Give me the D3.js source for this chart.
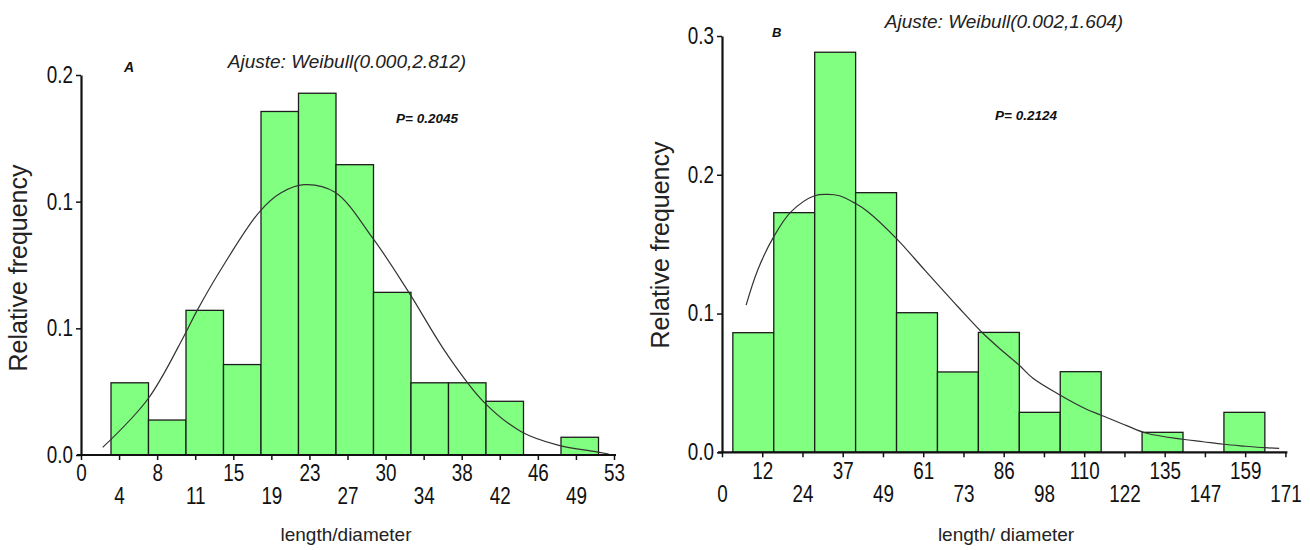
<!DOCTYPE html>
<html><head><meta charset="utf-8">
<script src="https://cdn.jsdelivr.net/npm/d3@7"></script>
<style>
html,body{margin:0;padding:0;background:#fff;}
svg{display:block;}
</style></head><body>
<svg id="chart" width="1310" height="550"></svg>
<script>
// ---------- Panel A data ----------
const binStartA = [3.0, 6.75, 10.5, 14.25, 18.0, 21.75, 25.5, 29.25, 33.0, 36.75, 40.5, 44.25, 48.0];
const binWidthA = 3.75;
const freqA = [0.0285, 0.0138, 0.0571, 0.0357, 0.1356, 0.1428, 0.1146, 0.0642, 0.0285, 0.0285, 0.0212, 0, 0.0070];
const curveXA = [2.17, 6.73, 10.33, 11.59, 14.19, 17.85, 19.97, 22.3, 25.4, 29.16, 32.8, 36.58, 40.29, 44.03, 47.7, 51.45, 52.77];
const curveYA = [0.0030, 0.0223, 0.0472, 0.0569, 0.0745, 0.0960, 0.1034, 0.1067, 0.1037, 0.0857, 0.0641, 0.0399, 0.0209, 0.0092, 0.0039, 0.0013, 0.0004];
const xTickLabelsA = ["0","4","8","11","15","19","23","27","30","34","38","42","46","49","53"];
const xMaxA = 53.3;
const yTickValuesA = [0, 0.05, 0.10, 0.15];
const yTickLabelsA = ["0.0","0.1","0.1","0.2"];
const titleA = "Ajuste: Weibull(0.000,2.812)";
const pValueA = "P= 0.2045";

// ---------- Panel B data ----------
const binStartB = [3.3, 15.75, 28.2, 40.65, 53.1, 65.55, 78.0, 90.45, 102.9, 115.35, 127.8, 140.25, 152.7];
const binWidthB = 12.45;
const freqB = [0.0862, 0.1727, 0.2883, 0.1871, 0.1006, 0.0579, 0.0864, 0.0288, 0.0581, 0, 0.0144, 0, 0.0288];
const curveXB = [7.34, 10.87, 15.75, 21.04, 28.14, 32.19, 35.75, 40.54, 44.37, 53.02, 61.64, 71.78, 78.9, 85.0, 90.36, 94.6, 102.8, 110.9, 115.2, 123.1, 129.2, 140.1, 146.4, 152.5, 158.6, 165.2, 169.5];
const curveYB = [0.1061, 0.1314, 0.1554, 0.1734, 0.1849, 0.1859, 0.1849, 0.1794, 0.1734, 0.1542, 0.1314, 0.1049, 0.0869, 0.0737, 0.0629, 0.0533, 0.0413, 0.0310, 0.0269, 0.0192, 0.0137, 0.0094, 0.0076, 0.0058, 0.0045, 0.0033, 0.0029];
const xTickLabelsB = ["0","12","24","37","49","61","73","86","98","110","122","135","147","159","171"];
const xMaxB = 171.4;
const yTickValuesB = [0, 0.1, 0.2, 0.3];
const yTickLabelsB = ["0.0","0.1","0.2","0.3"];
const titleB = "Ajuste: Weibull(0.002,1.604)";
const pValueB = "P= 0.2124";

const yLabel = "Relative frequency";
const xLabelA = "length/diameter";
const xLabelB = "length/ diameter";

const svg = d3.select("#chart");
const SANS = '"Liberation Sans", Arial, sans-serif';
const NARROW_SCALE = 0.82;

function drawPanel(p) {
  const g = svg.append("g");
  const x = d3.scaleLinear().domain([0, p.xMax]).range([p.x0, p.x1]);
  const y = d3.scaleLinear().domain([0, p.yMax]).range([p.yBottom, p.yTop]);

  // bars
  const bars = p.starts.map((s, i) => ({s, e: s + p.width, f: p.freq[i]})).filter(d => d.f > 0);
  g.append("g").selectAll("rect").data(bars).join("rect")
    .attr("x", d => x(d.s)).attr("width", d => x(d.e) - x(d.s))
    .attr("y", d => y(d.f)).attr("height", d => y(0) - y(d.f))
    .attr("fill", "#80ff80").attr("stroke", "#1c1c1c").attr("stroke-width", 1.3);

  // fitted curve
  const pts = p.cx.map((v, i) => [v, p.cy[i]]);
  g.append("path").datum(pts)
    .attr("d", d3.line().x(d => x(d[0])).y(d => y(d[1])).curve(d3.curveCatmullRom.alpha(0.5)))
    .attr("fill", "none").attr("stroke", "#333").attr("stroke-width", 1.2);

  // x axis
  const xTickVals = p.xLabels.map((l, i) => i * p.xMax / (p.xLabels.length - 1));
  const xa = g.append("g").attr("transform", `translate(0,${p.yBottom})`)
    .call(d3.axisBottom(x).tickValues(xTickVals).tickSize(5).tickSizeOuter(0)
      .tickFormat((d, i) => p.xLabels[i]));
  xa.select(".domain").remove();
  xa.selectAll(".tick line").attr("stroke", "#111").attr("stroke-width", 1.5);
  xa.selectAll(".tick text")
    .attr("dy", null)
    .attr("y", (d, i) => (i % 2 === p.upperParity) ? 26.5 : 49.5)
    .attr("transform", `scale(${NARROW_SCALE},1)`)
    .attr("font-family", SANS).attr("font-size", 23).attr("fill", "#111");
  g.append("line").attr("x1", x(0) - 4).attr("x2", x(p.xMax) + 2)
    .attr("y1", p.yBottom).attr("y2", p.yBottom).attr("stroke", "#111").attr("stroke-width", 2.2);

  // y axis
  const ya = g.append("g").attr("transform", `translate(${p.x0},0)`)
    .call(d3.axisLeft(y).tickValues(p.yTicks).tickSize(5).tickSizeOuter(0).tickPadding(3)
      .tickFormat((d, i) => p.yLabels[i]));
  ya.select(".domain").attr("stroke", "#111").attr("stroke-width", 2.2);
  ya.selectAll(".tick line").attr("stroke", "#111").attr("stroke-width", 1.5);
  ya.selectAll(".tick text")
    .attr("x", -8 / NARROW_SCALE)
    .attr("transform", `scale(${NARROW_SCALE},1)`)
    .attr("font-family", SANS).attr("font-size", 23).attr("fill", "#111");

  // texts
  g.append("text").attr("x", p.letterX).attr("y", p.letterY).text(p.letter)
    .attr("font-family", SANS).attr("font-weight", "bold").attr("font-style", "italic")
    .attr("font-size", p.letterSize).attr("fill", "#111");
  g.append("text").attr("x", p.titleX).attr("y", p.titleY).text(p.title)
    .attr("text-anchor", "middle").attr("font-family", SANS).attr("font-style", "italic")
    .attr("font-size", 19).attr("fill", "#222");
  g.append("text").attr("x", p.pX).attr("y", p.pY).text(p.pText)
    .attr("font-family", SANS).attr("font-weight", "bold").attr("font-style", "italic")
    .attr("font-size", 13.5).attr("fill", "#111");
  g.append("text").attr("transform", `translate(${p.ylabX},${p.ylabY}) rotate(-90)`)
    .attr("text-anchor", "middle").text(yLabel)
    .attr("font-family", SANS).attr("font-size", 25).attr("fill", "#222");
  g.append("text").attr("x", p.xlabX).attr("y", 541).attr("text-anchor", "middle").text(p.xLabel)
    .attr("font-family", SANS).attr("font-size", 19).attr("fill", "#222");
}

drawPanel({
  starts: binStartA, width: binWidthA, freq: freqA, cx: curveXA, cy: curveYA,
  xMax: xMaxA, yMax: 0.15, x0: 81, x1: 614, yBottom: 455, yTop: 75,
  xLabels: xTickLabelsA, upperParity: 0, yTicks: yTickValuesA, yLabels: yTickLabelsA,
  letter: "A", letterX: 124, letterY: 72, letterSize: 14,
  title: titleA, titleX: 347, titleY: 68, pText: pValueA, pX: 396, pY: 123,
  ylabX: 27, ylabY: 268, xLabel: xLabelA, xlabX: 346
});
drawPanel({
  starts: binStartB, width: binWidthB, freq: freqB, cx: curveXB, cy: curveYB,
  xMax: xMaxB, yMax: 0.3, x0: 722, x1: 1285.4, yBottom: 452.3, yTop: 36,
  xLabels: xTickLabelsB, upperParity: 1, yTicks: yTickValuesB, yLabels: yTickLabelsB,
  letter: "B", letterX: 772, letterY: 37, letterSize: 13,
  title: titleB, titleX: 1004, titleY: 27.5, pText: pValueB, pX: 995, pY: 119.5,
  ylabX: 668.5, ylabY: 245, xLabel: xLabelB, xlabX: 1006
});
</script>
</body></html>
